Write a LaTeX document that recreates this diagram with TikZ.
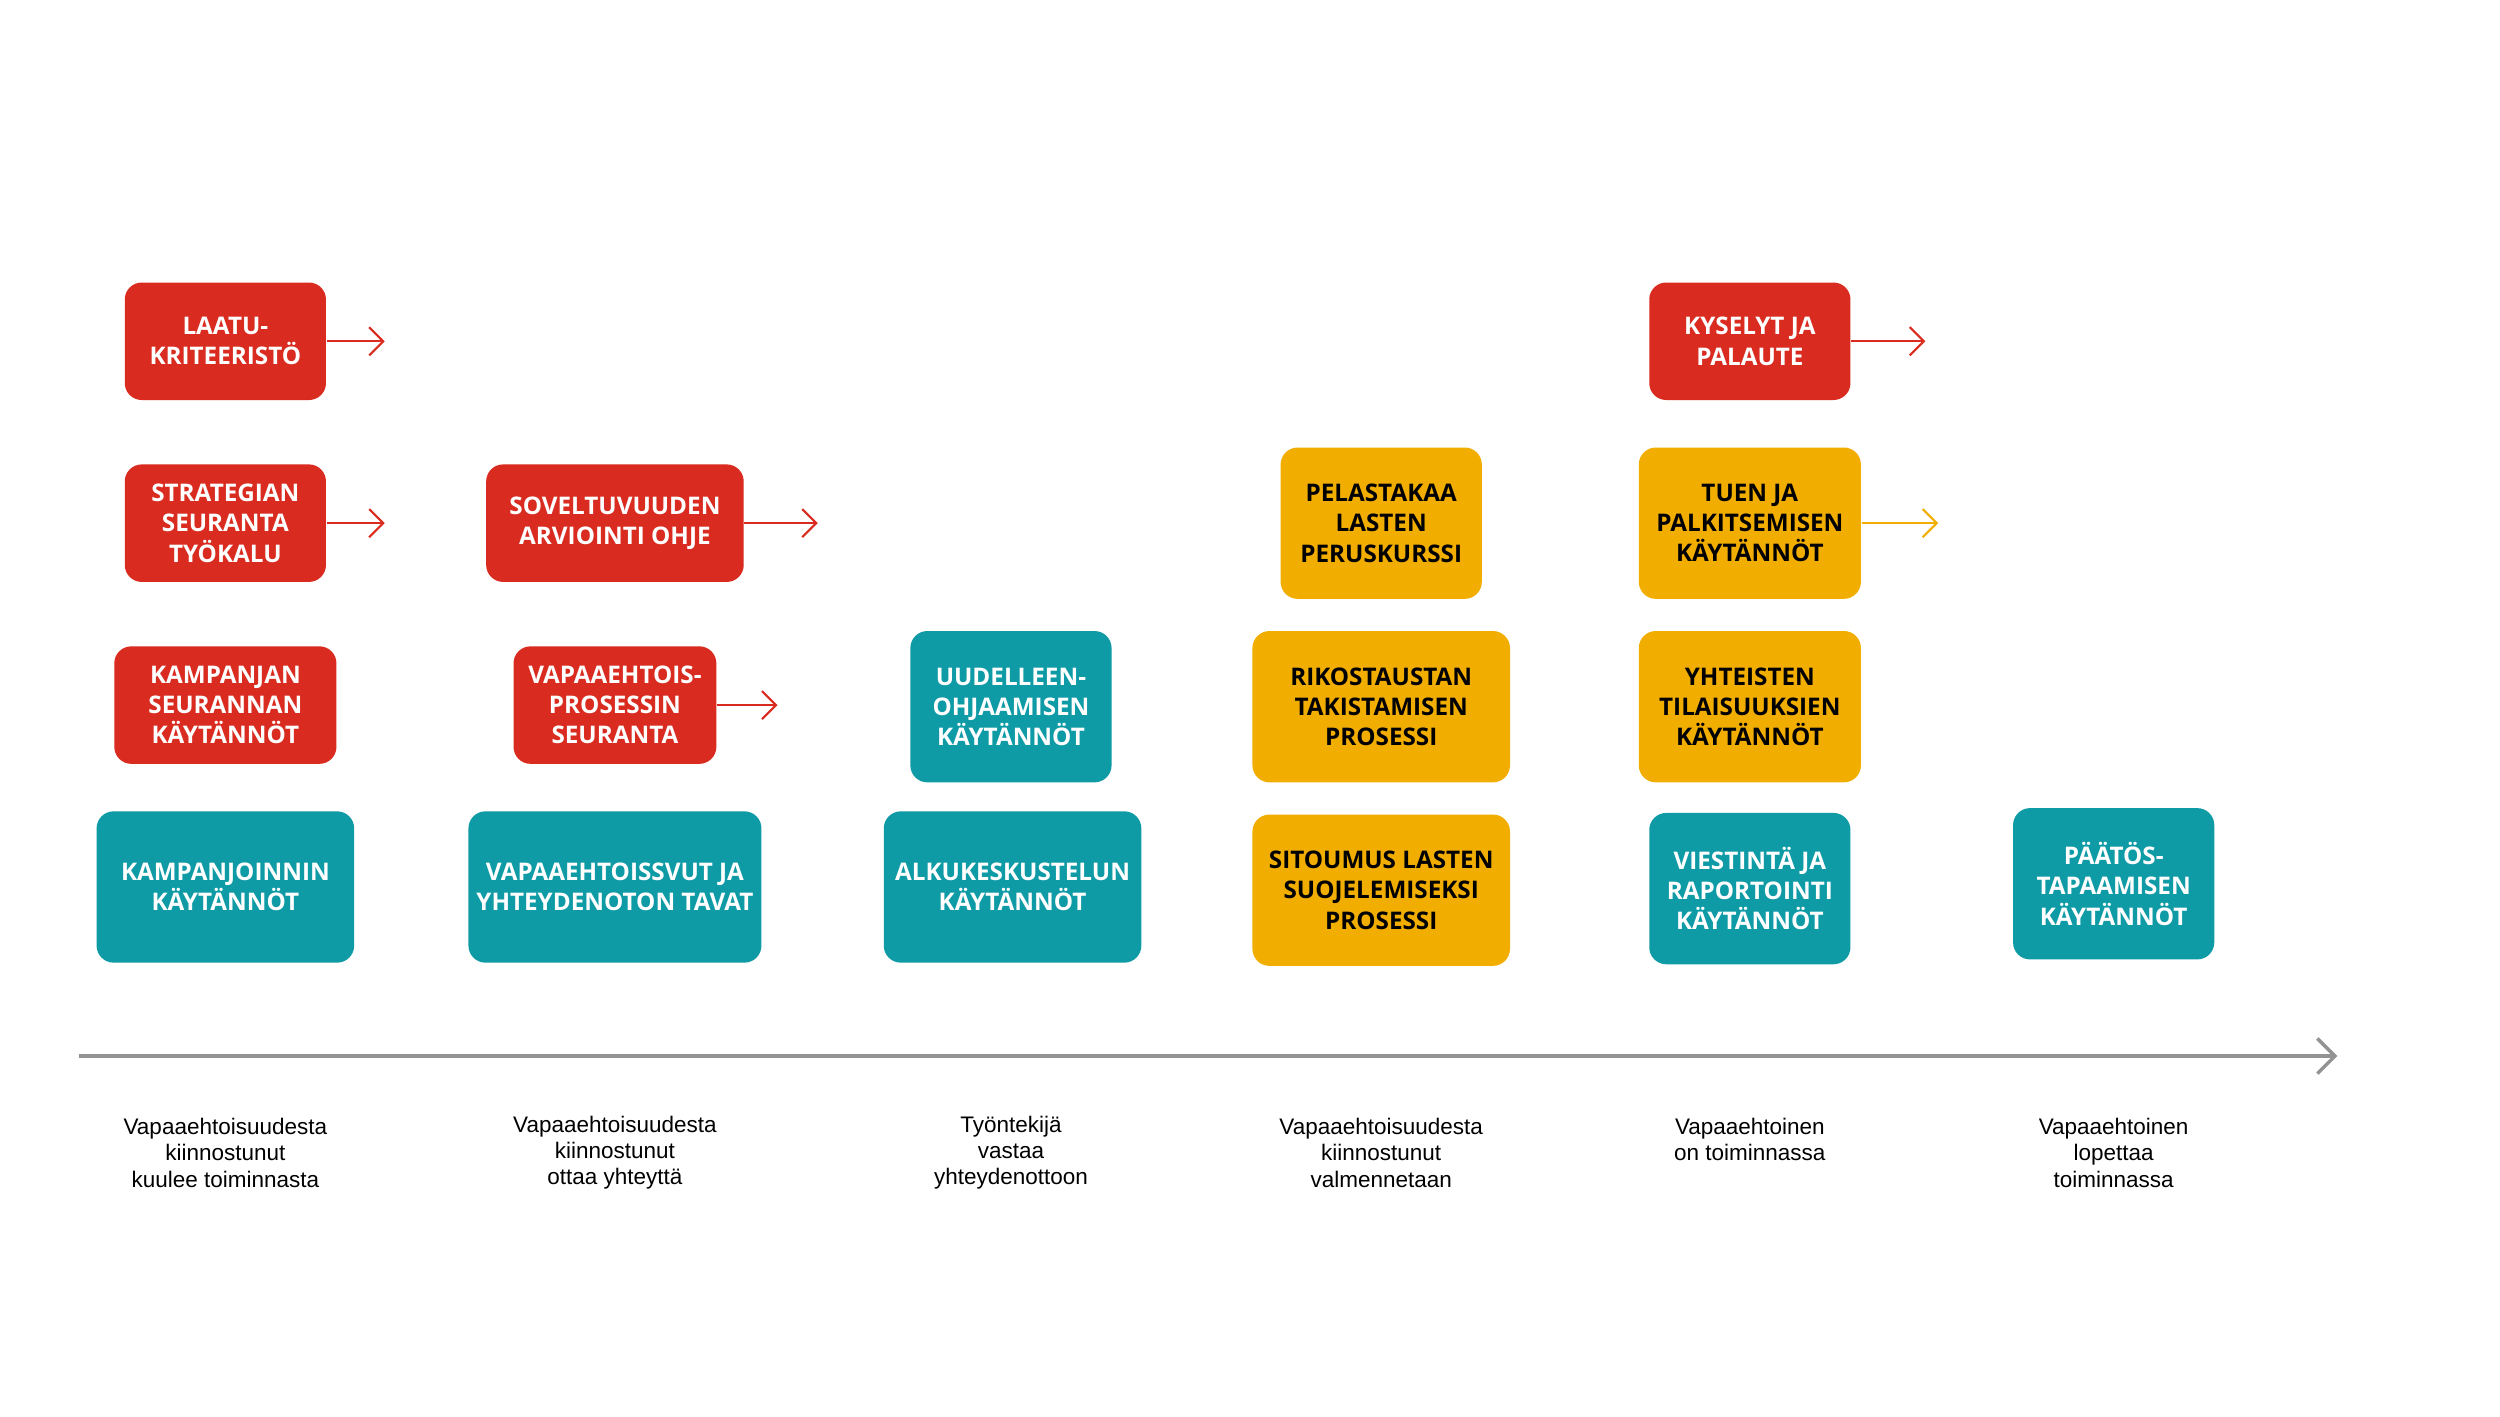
\documentclass[tikz,border=0pt]{standalone}
\usepackage{fontspec}
\setmainfont{Liberation Sans}
\newfontfamily\boxfont{Open Sans}
\usetikzlibrary{arrows.meta}
\definecolor{cred}{HTML}{D92B1F}
\definecolor{cteal}{HTML}{0E9BA6}
\definecolor{cyel}{HTML}{F2AE00}
\begin{document}
\begin{tikzpicture}[x=0.0161cm,y=-0.0161cm,
 box/.style={rounded corners=0.17cm,draw=none,align=center,text=white,inner sep=0pt,
   font=\boxfont\bfseries\fontsize{6.9}{8.6}\selectfont},
 r/.style={box,fill=cred,minimum height=73*0.0161cm},
 t/.style={box,fill=cteal,minimum height=94*0.0161cm},
 yy/.style={box,fill=cyel,text=black,minimum height=94*0.0161cm},
 w/.style={minimum width=#1*0.0161cm},
 arr/.style={draw=#1,line width=0.6pt,-{Straight Barb[length=4pt,width=8pt]}},
 lab/.style={align=center,font=\fontsize{6.4}{7.5}\selectfont,text=black}]
\useasboundingbox (0,0) rectangle (1553,880);
\fill[white] (0,0) rectangle (1553,880);
% red
\node[r,w=125] (laatu) at (140,212) {LAATU-\\KRITEERISTÖ};
\node[r,w=125] (strat) at (140,325) {STRATEGIAN\\SEURANTA\\TYÖKALU};
\node[r,w=138] (kamps) at (140,438) {KAMPANJAN\\SEURANNAN\\KÄYTÄNNÖT};
\node[r,w=160] (solv) at (382,325) {SOVELTUVUUDEN\\ARVIOINTI OHJE};
\node[r,w=126] (vps) at (382,438) {VAPAAEHTOIS-\\PROSESSIN\\SEURANTA};
\node[r,w=125] (kys) at (1087,212) {KYSELYT JA\\PALAUTE};
% teal
\node[t,w=160] (kampk) at (140,551) {KAMPANJOINNIN\\KÄYTÄNNÖT};
\node[t,w=182] (vaps) at (382,551) {VAPAAEHTOISSVUT JA\\YHTEYDENOTON TAVAT};
\node[t,w=125] (uud) at (628,439) {UUDELLEEN-\\OHJAAMISEN\\KÄYTÄNNÖT};
\node[t,w=160] (alku) at (629,551) {ALKUKESKUSTELUN\\KÄYTÄNNÖT};
\node[t,w=125] (viest) at (1087,552) {VIESTINTÄ JA\\RAPORTOINTI\\KÄYTÄNNÖT};
\node[t,w=125] (paat) at (1313,549) {PÄÄTÖS-\\TAPAAMISEN\\KÄYTÄNNÖT};
% yellow
\node[yy,w=125] (pel) at (858,325) {PELASTAKAA\\LASTEN\\PERUSKURSSI};
\node[yy,w=160] (rik) at (858,439) {RIKOSTAUSTAN\\TAKISTAMISEN\\PROSESSI};
\node[yy,w=160] (sit) at (858,553) {SITOUMUS LASTEN\\SUOJELEMISEKSI\\PROSESSI};
\node[yy,w=138] (tuen) at (1087,325) {TUEN JA\\PALKITSEMISEN\\KÄYTÄNNÖT};
\node[yy,w=138] (yht) at (1087,439) {YHTEISTEN\\TILAISUUKSIEN\\KÄYTÄNNÖT};
% arrows
\coordinate (a1) at (239,212); \coordinate (a2) at (239,325);
\coordinate (a3) at (508,325); \coordinate (a4) at (483,438);
\coordinate (a5) at (1196,212); \coordinate (a6) at (1204,325);
\draw[arr=cred] (laatu.east) -- (a1);
\draw[arr=cred] (strat.east) -- (a2);
\draw[arr=cred] (solv.east) -- (a3);
\draw[arr=cred] (vps.east) -- (a4);
\draw[arr=cred] (kys.east) -- (a5);
\draw[arr=cyel] (tuen.east) -- (a6);
% axis
\coordinate (ax0) at (49,656); \coordinate (ax1) at (1452,656);
\draw[draw=gray!85,line width=1pt,-{Straight Barb[length=5pt,width=10pt]}] (ax0) -- (ax1);
% labels
\node[lab] (l1) at (140,716) {Vapaaehtoisuudesta\\kiinnostunut\\kuulee toiminnasta};
\node[lab] (l2) at (382,716) {Vapaaehtoisuudesta\\kiinnostunut\\ottaa yhteyttä};
\node[lab] (l3) at (628,716) {Työntekijä\\vastaa\\yhteydenottoon};
\node[lab] (l4) at (858,716) {Vapaaehtoisuudesta\\kiinnostunut\\valmennetaan};
\node[lab] (l5) at (1087,708) {Vapaaehtoinen\\on toiminnassa};
\node[lab] (l6) at (1313,716) {Vapaaehtoinen\\lopettaa\\toiminnassa};
\end{tikzpicture}
\end{document}
